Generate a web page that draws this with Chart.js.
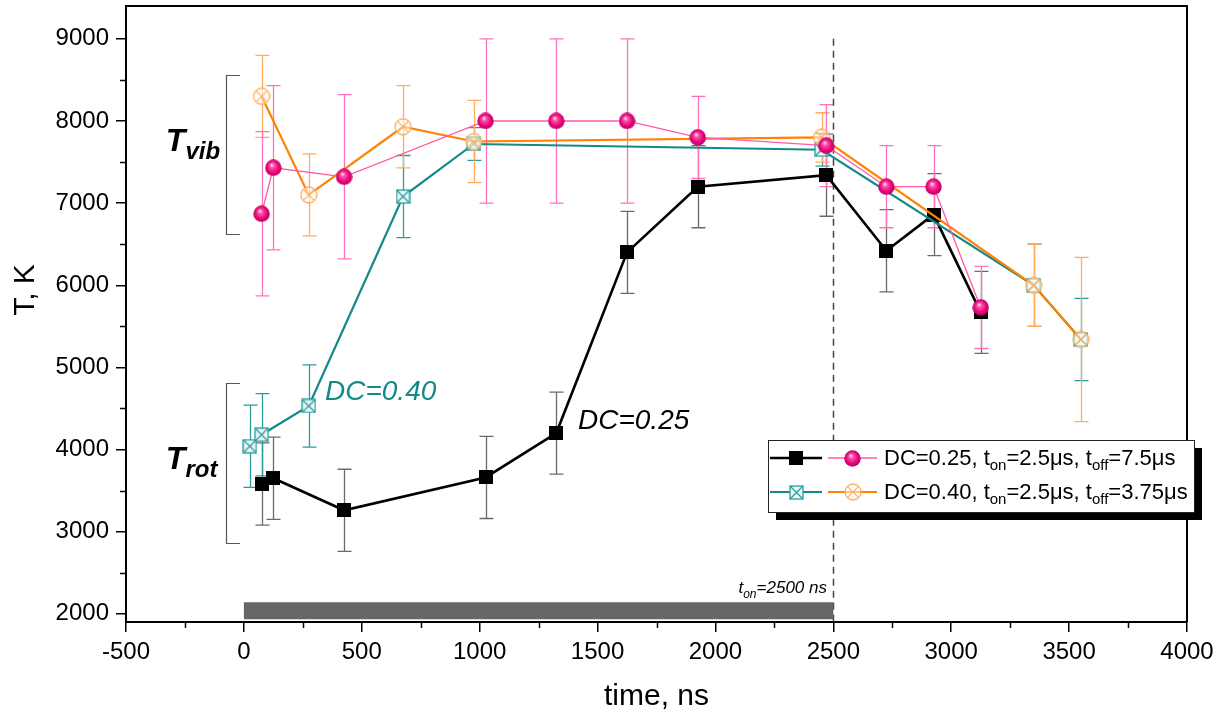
<!DOCTYPE html>
<html>
<head>
<meta charset="utf-8">
<script src="https://cdn.jsdelivr.net/npm/chart.js@4.4.1/dist/chart.umd.min.js"></script>
<style>
    html, body { margin: 0; padding: 0; background: #fff; }
    #wrap { width: 1225px; height: 718px; }
</style>
</head>
<body>
<div id="wrap"><canvas id="tempChart" width="1225" height="718"></canvas></div>
<script>
// DC = 0.25 (t_on = 2.5us, t_off = 7.5us)
const timeDC25 = [75, 125, 425, 1025, 1325, 1625, 1925, 2470, 2725, 2925, 3125];
const tRotDC25 = [3580, 3650, 3260, 3660, 4200, 6400, 7200, 7340, 6420, 6860, 5670];
const tRotDC25Err = [500, 500, 500, 500, 500, 500, 500, 500, 500, 500, 500];
const tVibDC25 = [6870, 7430, 7320, 8000, 8000, 8000, 7800, 7700, 7200, 7200, 5730];
const tVibDC25Err = [1000, 1000, 1000, 1000, 1000, 1000, 500, 500, 500, 500, 500];

// DC = 0.40 (t_on = 2.5us, t_off = 3.75us)
const timeRotDC40 = [25, 75, 275, 675, 975, 2450, 3350, 3550];
const tRotDC40 = [4040, 4180, 4530, 7080, 7720, 7650, 6000, 5340];
const tRotDC40Err = [500, 500, 500, 500, 200, 200, 500, 500];
const timeVibDC40 = [75, 275, 675, 975, 2450, 3350, 3550];
const tVibDC40 = [8300, 7100, 7930, 7750, 7800, 6000, 5340];
const tVibDC40Err = [500, 500, 500, 500, 300, 500, 1000];

// pulse on-time bar
const pulseTimes = [0, 2500];
const pulseLevel = [2036, 2036];

// axes
const xTickValues = [-500, 0, 500, 1000, 1500, 2000, 2500, 3000, 3500, 4000];
const xMinorTicks = [-250, 250, 750, 1250, 1750, 2250, 2750, 3250, 3750];
const yTickValues = [2000, 3000, 4000, 5000, 6000, 7000, 8000, 9000];
const yMinorTicks = [2500, 3500, 4500, 5500, 6500, 7500, 8500];
const X_RANGE = [-500, 4000];
const Y_RANGE = [1900, 9400];

const FONT = "'Liberation Sans', Arial, sans-serif";

const COLORS = {
    black: '#000000',
    blackErr: '#6a6a6a',
    pink: '#ff5aa8',
    pinkErr: '#ff73b8',
    teal: '#158888',
    tealErr: '#2b9c9c',
    orange: '#ff8200',
    orangeErr: '#ffac5c',
    bar: '#666666'
};

const toPoints = (xs, ys) => xs.map((x, i) => ({ x: x, y: ys[i] }));

// marker images
const makeMarker = (size, draw) => {
    const c = document.createElement('canvas');
    c.width = size;
    c.height = size;
    draw(c.getContext('2d'), size);
    return c;
};

const squareMarker = makeMarker(14, (ctx, s) => {
    ctx.fillStyle = '#000';
    ctx.fillRect(0, 0, s, s);
});

const ballMarker = makeMarker(17, (ctx, s) => {
    const r = s / 2 - 0.3;
    const g = ctx.createRadialGradient(s * 0.4, s * 0.33, 0.4, s / 2, s / 2, r);
    g.addColorStop(0, '#ffe3f0');
    g.addColorStop(0.22, '#ff5aa8');
    g.addColorStop(0.65, '#ec0a80');
    g.addColorStop(1, '#bc0062');
    ctx.fillStyle = g;
    ctx.beginPath();
    ctx.arc(s / 2, s / 2, r, 0, Math.PI * 2);
    ctx.fill();
});

const squareXMarker = makeMarker(15, (ctx, s) => {
    ctx.fillStyle = '#eaf7f7';
    ctx.fillRect(1, 1, s - 2, s - 2);
    ctx.strokeStyle = COLORS.tealErr;
    ctx.lineWidth = 1.3;
    ctx.strokeRect(1, 1, s - 2, s - 2);
    ctx.beginPath();
    ctx.moveTo(1, 1); ctx.lineTo(s - 1, s - 1);
    ctx.moveTo(s - 1, 1); ctx.lineTo(1, s - 1);
    ctx.stroke();
});

const circleXMarker = makeMarker(18, (ctx, s) => {
    const r = s / 2 - 1;
    ctx.fillStyle = 'rgba(255,255,255,0.5)';
    ctx.beginPath();
    ctx.arc(s / 2, s / 2, r, 0, Math.PI * 2);
    ctx.fill();
    ctx.strokeStyle = COLORS.orangeErr;
    ctx.lineWidth = 1.3;
    ctx.stroke();
    const d = r * Math.SQRT1_2;
    ctx.beginPath();
    ctx.moveTo(s / 2 - d, s / 2 - d); ctx.lineTo(s / 2 + d, s / 2 + d);
    ctx.moveTo(s / 2 + d, s / 2 - d); ctx.lineTo(s / 2 - d, s / 2 + d);
    ctx.stroke();
});

// error bars, drawn under the lines
const errorBarsPlugin = {
    id: 'errorBars',
    beforeDatasetsDraw(chart) {
        const { ctx, scales: { x, y } } = chart;
        const list = chart.data.datasets.filter(ds => ds.errors).reverse();
        list.forEach(ds => {
            ctx.save();
            ctx.strokeStyle = ds.errorColor;
            ctx.lineWidth = 1.3;
            ds.data.forEach((p, j) => {
                const px = Math.round(x.getPixelForValue(p.x)) + 0.5;
                const top = y.getPixelForValue(p.y + ds.errors[j]);
                const bot = y.getPixelForValue(p.y - ds.errors[j]);
                ctx.beginPath();
                ctx.moveTo(px, top); ctx.lineTo(px, bot);
                ctx.moveTo(px - 7, top); ctx.lineTo(px + 7, top);
                ctx.moveTo(px - 7, bot); ctx.lineTo(px + 7, bot);
                ctx.stroke();
            });
            ctx.restore();
        });
    }
};

// frame, minor ticks, axis titles
const framePlugin = {
    id: 'frame',
    beforeDatasetsDraw(chart) {
        const { ctx, chartArea: a, scales: { x, y } } = chart;
        ctx.save();
        // dashed line at end of pulse
        ctx.strokeStyle = '#444';
        ctx.lineWidth = 1.5;
        ctx.setLineDash([7, 5]);
        const xd = Math.round(x.getPixelForValue(2500)) + 0.5;
        ctx.beginPath();
        ctx.moveTo(xd, y.getPixelForValue(9000));
        ctx.lineTo(xd, a.bottom);
        ctx.stroke();
        ctx.restore();
    },
    afterDraw(chart) {
        const { ctx, chartArea: a, scales: { x, y } } = chart;
        ctx.save();
        ctx.strokeStyle = '#000';
        ctx.lineWidth = 2;
        ctx.beginPath();
        ctx.moveTo(a.left, a.top);
        ctx.lineTo(a.right, a.top);
        ctx.lineTo(a.right, a.bottom);
        ctx.stroke();

        // minor ticks
        ctx.lineWidth = 1.5;
        ctx.beginPath();
        yMinorTicks.forEach(v => {
            const py = Math.round(y.getPixelForValue(v)) + 0.5;
            ctx.moveTo(a.left, py); ctx.lineTo(a.left - 6, py);
        });
        xMinorTicks.forEach(v => {
            const px = Math.round(x.getPixelForValue(v)) + 0.5;
            ctx.moveTo(px, a.bottom); ctx.lineTo(px, a.bottom + 6);
        });
        ctx.stroke();

        // axis titles
        ctx.fillStyle = '#000';
        ctx.font = `30px ${FONT}`;
        ctx.textAlign = 'center';
        ctx.textBaseline = 'middle';
        ctx.fillText('time, ns', (a.left + a.right) / 2, 697);
        ctx.translate(26, 290);
        ctx.rotate(-Math.PI / 2);
        ctx.fillText('T, K', 0, 0);
        ctx.restore();
    }
};

// text with subscripts: parts = [[text, font, dy], ...]
const drawRich = (ctx, parts, x, y, color, align) => {
    ctx.save();
    ctx.fillStyle = color;
    ctx.textAlign = 'left';
    ctx.textBaseline = 'alphabetic';
    let total = 0;
    parts.forEach(p => { ctx.font = p[1]; total += ctx.measureText(p[0]).width; });
    let cx = align === 'right' ? x - total : x;
    parts.forEach(p => {
        ctx.font = p[1];
        ctx.fillText(p[0], cx, y + (p[2] || 0));
        cx += ctx.measureText(p[0]).width;
    });
    ctx.restore();
};

const annotationPlugin = {
    id: 'notes',
    afterDatasetsDraw(chart) {
        const { ctx, scales: { x, y } } = chart;
        ctx.save();
        // brackets
        ctx.strokeStyle = '#555';
        ctx.lineWidth = 1.2;
        const bx = Math.round(x.getPixelForValue(-77)) + 0.5;
        const ax = x.getPixelForValue(-17);
        [[8560, 6625], [4810, 2865]].forEach(([t, b]) => {
            const yt = Math.round(y.getPixelForValue(t)) + 0.5;
            const yb = Math.round(y.getPixelForValue(b)) + 0.5;
            ctx.beginPath();
            ctx.moveTo(ax, yt); ctx.lineTo(bx, yt); ctx.lineTo(bx, yb); ctx.lineTo(ax, yb);
            ctx.stroke();
        });
        ctx.restore();

        const tx = x.getPixelForValue(-331);
        drawRich(ctx, [['T', `italic bold 32px ${FONT}`], ['vib', `italic bold 24px ${FONT}`, 8]],
            tx, y.getPixelForValue(7637), '#000');
        drawRich(ctx, [['T', `italic bold 32px ${FONT}`], ['rot', `italic bold 24px ${FONT}`, 8]],
            tx, y.getPixelForValue(3765), '#000');

        drawRich(ctx, [['DC=0.40', `italic 28px ${FONT}`]],
            x.getPixelForValue(344), y.getPixelForValue(4605), COLORS.teal);
        drawRich(ctx, [['DC=0.25', `italic 28px ${FONT}`]],
            x.getPixelForValue(1417), y.getPixelForValue(4252), '#000');

        drawRich(ctx, [['t', `italic 17px ${FONT}`], ['on', `italic 12px ${FONT}`, 5], ['=2500 ns', `italic 17px ${FONT}`]],
            x.getPixelForValue(2473), y.getPixelForValue(2256), '#000', 'right');
    }
};

// legend box with shadow
const legendPlugin = {
    id: 'customLegend',
    afterDraw(chart) {
        const { ctx } = chart;
        const bx = 768, by = 440, bw = 426, bh = 72;
        ctx.save();
        ctx.fillStyle = '#000';
        ctx.fillRect(bx + 8, by + 8, bw, bh);
        ctx.fillStyle = '#fff';
        ctx.fillRect(bx, by, bw, bh);
        ctx.strokeStyle = '#222';
        ctx.lineWidth = 1;
        ctx.strokeRect(bx + 0.5, by + 0.5, bw, bh);

        const rows = [
            { y: 458, a: [COLORS.black, 2.5, squareMarker], b: [COLORS.pink, 1.3, ballMarker], off: '7.5' },
            { y: 492, a: [COLORS.teal, 2, squareXMarker], b: [COLORS.orange, 2, circleXMarker], off: '3.75' }
        ];
        rows.forEach((r, i) => {
            [[770, 822, r.a], [828, 877, r.b]].forEach(([x0, x1, s]) => {
                ctx.strokeStyle = s[0];
                ctx.lineWidth = s[1];
                ctx.beginPath();
                ctx.moveTo(x0, r.y); ctx.lineTo(x1, r.y);
                ctx.stroke();
                const m = s[2];
                ctx.drawImage(m, Math.round((x0 + x1) / 2 - m.width / 2), Math.round(r.y - m.height / 2));
            });
            const dc = i === 0 ? '0.25' : '0.40';
            drawRich(ctx, [
                [`DC=${dc}, t`, `22px ${FONT}`],
                ['on', `15px ${FONT}`, 5],
                ['=2.5\u03bcs, t', `22px ${FONT}`],
                ['off', `15px ${FONT}`, 5],
                [`=${r.off}\u03bcs`, `22px ${FONT}`]
            ], 884, r.y + 7, '#000');
        });
        ctx.restore();
    }
};

const ctx = document.getElementById('tempChart').getContext('2d');

new Chart(ctx, {
    type: 'line',
    data: {
        datasets: [
            {
                label: 'Tvib DC=0.25',
                data: toPoints(timeDC25, tVibDC25),
                errors: tVibDC25Err,
                errorColor: COLORS.pinkErr,
                borderColor: COLORS.pink,
                borderWidth: 1.3,
                pointStyle: ballMarker,
                pointRadius: 8,
                order: 0
            },
            {
                label: 'Tvib DC=0.40',
                data: toPoints(timeVibDC40, tVibDC40),
                errors: tVibDC40Err,
                errorColor: COLORS.orangeErr,
                borderColor: COLORS.orange,
                borderWidth: 2.2,
                pointStyle: circleXMarker,
                pointRadius: 8,
                order: 1
            },
            {
                label: 'Trot DC=0.40',
                data: toPoints(timeRotDC40, tRotDC40),
                errors: tRotDC40Err,
                errorColor: COLORS.tealErr,
                borderColor: COLORS.teal,
                borderWidth: 2.2,
                pointStyle: squareXMarker,
                pointRadius: 8,
                order: 2
            },
            {
                label: 'Trot DC=0.25',
                data: toPoints(timeDC25, tRotDC25),
                errors: tRotDC25Err,
                errorColor: COLORS.blackErr,
                borderColor: COLORS.black,
                borderWidth: 2.6,
                pointStyle: squareMarker,
                pointRadius: 8,
                order: 3
            },
            {
                label: 'pulse',
                data: toPoints(pulseTimes, pulseLevel),
                borderColor: COLORS.bar,
                borderWidth: 17,
                borderCapStyle: 'butt',
                pointRadius: 0,
                order: 4
            }
        ]
    },
    options: {
        responsive: false,
        animation: false,
        layout: { autoPadding: false, padding: { top: 6, right: 38, left: 0, bottom: 0 } },
        elements: { line: { tension: 0, fill: false } },
        plugins: {
            legend: { display: false },
            tooltip: { enabled: false }
        },
        scales: {
            x: {
                type: 'linear',
                min: X_RANGE[0],
                max: X_RANGE[1],
                afterBuildTicks: (scale) => { scale.ticks = xTickValues.map(v => ({ value: v })); },
                afterFit: (scale) => {
                    scale.height = 96;
                    scale.paddingLeft = 0;
                    scale.paddingRight = 0;
                },
                border: { display: true, color: '#000', width: 2 },
                grid: { drawOnChartArea: false, drawTicks: true, tickLength: 10, color: '#000', lineWidth: 1.5 },
                ticks: {
                    color: '#000',
                    font: { family: FONT, size: 24 },
                    padding: 6,
                    maxRotation: 0,
                    autoSkip: false,
                    callback: (v) => String(v)
                }
            },
            y: {
                type: 'linear',
                min: Y_RANGE[0],
                max: Y_RANGE[1],
                afterBuildTicks: (scale) => { scale.ticks = yTickValues.map(v => ({ value: v })); },
                afterFit: (scale) => {
                    scale.width = 126;
                    scale.paddingTop = 0;
                    scale.paddingBottom = 0;
                },
                border: { display: true, color: '#000', width: 2 },
                grid: { drawOnChartArea: false, drawTicks: true, tickLength: 10, color: '#000', lineWidth: 1.5 },
                ticks: {
                    color: '#000',
                    font: { family: FONT, size: 24 },
                    padding: 7,
                    autoSkip: false,
                    callback: (v) => String(v)
                }
            }
        }
    },
    plugins: [errorBarsPlugin, framePlugin, annotationPlugin, legendPlugin]
});
</script>
</body>
</html>
